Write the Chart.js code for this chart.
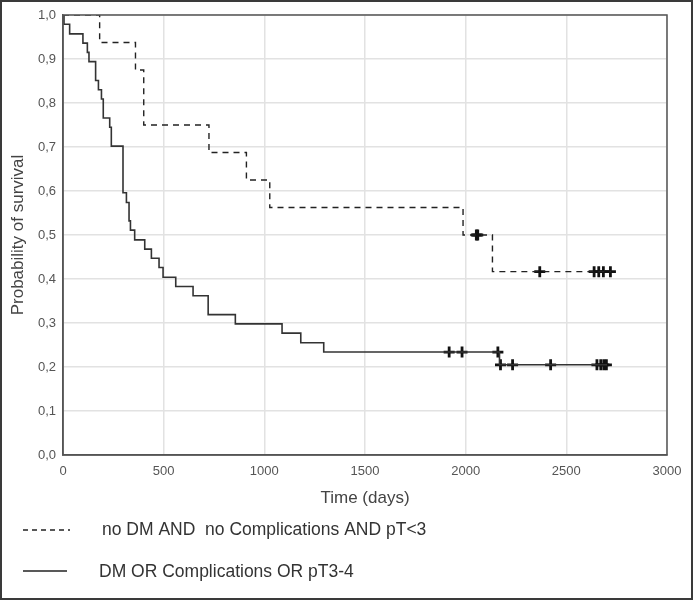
<!DOCTYPE html>
<html><head><meta charset="utf-8">
<script src="https://cdn.jsdelivr.net/npm/chart.js@4"></script>
<style>html,body{margin:0;padding:0;background:#fff}</style>
</head><body>
<canvas id="c" width="693" height="600"></canvas>
<script>
// Group A: no DM AND no Complications AND pT<3 (dashed)
const timesA = [0, 182, 360, 401, 725, 911, 1027, 1987, 2133, 2722];
const survA  = [1.0, 0.9375, 0.875, 0.75, 0.6875, 0.625, 0.5625, 0.5, 0.4167, 0.4167];
const censorA = [2053, 2060, 2368, 2638, 2661, 2684, 2719];

// Group B: DM OR Complications OR pT3-4 (solid)
const timesB = [0, 5, 33, 99, 121, 129, 162, 176, 191, 200, 232, 240, 298, 315, 328, 335, 356, 406, 439, 477, 497, 560, 646, 721, 856, 1088, 1181, 1295, 2168, 2702];
const survB  = [1.0, 0.979, 0.957, 0.936, 0.915, 0.894, 0.851, 0.830, 0.809, 0.766, 0.745, 0.702, 0.596, 0.574, 0.532, 0.511, 0.489, 0.468, 0.447, 0.426, 0.404, 0.383, 0.362, 0.319, 0.298, 0.277, 0.255, 0.234, 0.205, 0.205];
const censorB = [1918, 1982, 2160, 2173, 2233, 2422, 2652, 2671, 2686, 2699];

const xTickValues = [0, 500, 1000, 1500, 2000, 2500, 3000];
const yTickValues = [0, 0.1, 0.2, 0.3, 0.4, 0.5, 0.6, 0.7, 0.8, 0.9, 1.0];
const seriesNames = ["no DM AND  no Complications AND pT<3", "DM OR Complications OR pT3-4"];
const xTitle = "Time (days)";
const yTitle = "Probability of survival";

const FONT = "'Liberation Sans', Arial, sans-serif";

function stepAt(times, surv, t) {
  let v = surv[0];
  for (let i = 0; i < times.length; i++) if (times[i] <= t) v = surv[i];
  return v;
}
const pts = (ts, ss) => ts.map((t, i) => ({x: t, y: ss[i]}));
const cens = (cs, ts, ss) => cs.map(t => ({x: t, y: stepAt(ts, ss, t)}));

const framePlugin = {
  id: 'frame',
  afterDraw(chart) {
    const ctx = chart.ctx, a = chart.chartArea;
    ctx.save();
    ctx.strokeStyle = '#555'; ctx.lineWidth = 1.5;
    ctx.strokeRect(a.left, a.top, a.right - a.left, a.bottom - a.top);
    ctx.strokeStyle = '#3a3a3a'; ctx.lineWidth = 2;
    ctx.strokeRect(1, 1, chart.width - 2, chart.height - 2);
    // legend
    ctx.font = "17.5px " + FONT;
    ctx.fillStyle = '#333';
    ctx.textBaseline = 'middle';
    ctx.strokeStyle = '#222'; ctx.lineWidth = 1.3;
    ctx.setLineDash([5, 4]);
    ctx.beginPath(); ctx.moveTo(23, 530); ctx.lineTo(70, 530); ctx.stroke();
    ctx.setLineDash([]);
    ctx.beginPath(); ctx.moveTo(23, 571); ctx.lineTo(67, 571); ctx.stroke();
    ctx.fillText(seriesNames[0], 102, 530);
    ctx.fillText(seriesNames[1], 99, 572);
    ctx.restore();
  }
};

new Chart(document.getElementById('c'), {
  type: 'line',
  data: {
    datasets: [
      {label: seriesNames[0], data: pts(timesA, survA), stepped: true, borderColor: '#222', borderWidth: 1.4, borderDash: [6, 5], pointRadius: 0, fill: false},
      {label: seriesNames[1], data: pts(timesB, survB), stepped: true, borderColor: '#333', borderWidth: 1.6, pointRadius: 0, fill: false},
      {label: 'cA', data: cens(censorA, timesA, survA), showLine: false, pointStyle: 'cross', pointRadius: 5.5, pointBorderWidth: 2.8, borderColor: '#111', pointHoverRadius: 5.5},
      {label: 'cB', data: cens(censorB, timesB, survB), showLine: false, pointStyle: 'cross', pointRadius: 5.5, pointBorderWidth: 2.8, borderColor: '#111', pointHoverRadius: 5.5}
    ]
  },
  options: {
    responsive: false,
    animation: false,
    events: [],
    layout: {padding: {left: 6, right: 26, top: 15, bottom: 85}},
    plugins: {legend: {display: false}, tooltip: {enabled: false}},
    scales: {
      x: {
        type: 'linear', min: 0, max: 3000,
        afterBuildTicks: s => { s.ticks = xTickValues.map(v => ({value: v})); },
        afterFit: s => { s.height = 60; },
        ticks: {color: '#555', font: {family: FONT, size: 13}, padding: 9, callback: v => String(v)},
        grid: {color: '#e2e2e2', lineWidth: 1.5, drawTicks: false},
        border: {display: true, color: '#555', width: 1.5},
        title: {display: true, text: xTitle, color: '#444', font: {family: FONT, size: 17}, padding: {top: 4, bottom: 6}}
      },
      y: {
        min: 0, max: 1,
        afterBuildTicks: s => { s.ticks = yTickValues.map(v => ({value: v})); },
        afterFit: s => { s.width = 57; },
        ticks: {color: '#555', font: {family: FONT, size: 13}, padding: 7, callback: v => v.toFixed(1).replace('.', ',')},
        grid: {color: '#e2e2e2', lineWidth: 1.5, drawTicks: false},
        border: {display: true, color: '#555', width: 1.5},
        title: {display: true, text: yTitle, color: '#444', font: {family: FONT, size: 17}, padding: {top: 2, bottom: 4}}
      }
    }
  },
  plugins: [framePlugin]
});
</script>
</body></html>
